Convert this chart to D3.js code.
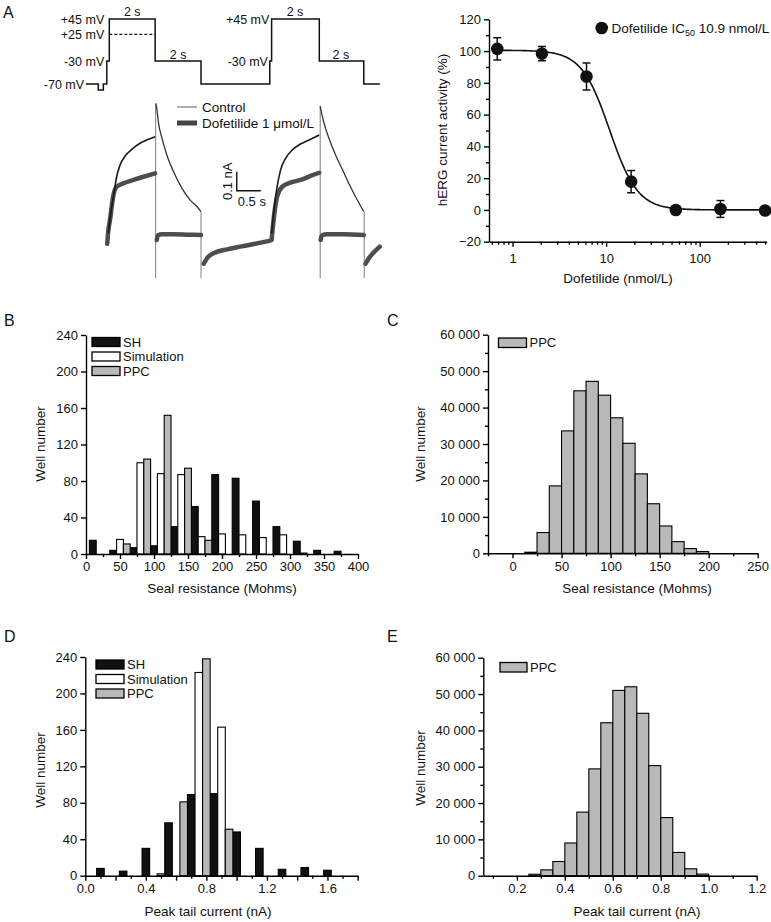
<!DOCTYPE html>
<html><head><meta charset="utf-8">
<script src="https://cdn.jsdelivr.net/npm/d3@7"></script>
<style>
body{margin:0;background:#fff;}
svg{font-family:"Liberation Sans",Arial,Helvetica,sans-serif;}
</style></head><body>
<svg id="fig" width="771" height="922"></svg>
<script>
// ================= DATA =================
// Panel A (left) — voltage protocol: step start times (s) and voltages (mV)
const protocolT = [-1.02, -0.48, -0.26, -0.11, 0, 2, 4, 7, 7.08, 9.16, 11.1, 11.8];
const protocolV = [-70, -80, -70, -30, 45, -30, -70, -30, 45, -30, -70, -70];
const dashedLevel = [[0, 25], [2, 25]];
const protocolLabels = ["+45 mV", "+25 mV", "-30 mV", "-70 mV", "+45 mV", "-30 mV"];
const durationLabels = ["2 s", "2 s", "2 s", "2 s"];

// Current traces (time s, current nA)
const ctrlPulse1 = [[-0.04,0.035],[0.06,0.14],[0.18,0.228],[0.32,0.333],[0.47,0.395],[0.69,0.442],[0.98,0.477],[1.34,0.509],[1.71,0.53],[2.0,0.544]];
const ctrlTail1  = [[2.03,0.719],[2.08,0.684],[2.15,0.614],[2.3,0.535],[2.51,0.447],[2.8,0.36],[3.17,0.272],[3.53,0.21],[3.83,0.175],[4.0,0.149]];
const ctrlPulse2 = [[7.08,0.035],[7.2,0.175],[7.32,0.28],[7.47,0.368],[7.69,0.43],[7.98,0.474],[8.34,0.505],[8.78,0.53],[9.16,0.553]];
const ctrlTail2  = [[9.2,0.705],[9.26,0.668],[9.43,0.589],[9.61,0.526],[9.87,0.447],[10.18,0.368],[10.48,0.289],[10.75,0.226],[11.1,0.149]];
const dofPulse1  = [[-0.09,-0.02],[-0.06,0.03],[0.03,0.105],[0.18,0.237],[0.32,0.28],[0.61,0.298],[1.05,0.316],[1.49,0.333],[2.0,0.351]];
const dofTail1   = [[2.07,0.0],[2.12,0.025],[2.3,0.03],[2.8,0.03],[3.4,0.028],[4.0,0.026]];
const dofPulse2  = [[7.08,0.0],[7.2,0.14],[7.32,0.228],[7.54,0.28],[7.9,0.302],[8.34,0.316],[8.78,0.337],[9.16,0.354]];
const dofTail2   = [[9.22,0.0],[9.27,0.025],[9.5,0.03],[10.2,0.03],[11.1,0.026]];
const holdTrace1 = [[4.12,-0.125],[4.3,-0.09],[4.55,-0.07],[5.14,-0.049],[5.72,-0.035],[6.31,-0.021],[7.0,-0.004]];
const holdTrace2 = [[11.18,-0.125],[11.3,-0.1],[11.5,-0.07],[11.8,-0.035]];
const transients = [[2.02,0.719],[4.0,0.149],[9.2,0.705],[11.12,0.149]]; // [time, top current]
const transientBottom = -0.2;
const traceLegend = ["Control", "Dofetilide 1 μmol/L"];
const scaleBarLabels = ["0.1 nA", "0.5 s"];

// Panel A (right) — concentration–response
const doseConc = [0.686, 2.06, 6.17, 18.5, 55.6, 166.7, 500];
const doseMean = [101.4, 98.4, 84, 17.8, 0, 0.6, -0.4];
const doseErr  = [7, 4.5, 8.5, 7, 1, 5.3, 0.5];
const ic50 = 10.9, hillSlope = 2.9, fitTop = 100.5, fitBottom = 0;
const doseXTicks = [1, 10, 100];
const doseYTicks = [-20, 0, 20, 40, 60, 80, 100, 120];

// Panel B — seal resistance histogram (group centres, Mohms)
const sealGroups = [20, 50, 80, 110, 140, 170, 200, 230, 260, 290, 320, 350, 380];
const sealSH  = [15, 4, 7, 9, 30, 52, 87, 83, 58, 30, 14, 4, 3];
const sealSim = [0, 16, 100, 88, 87, 19, 22, 21, 18, 21, 1, 0, 0];
const sealPPC = [0, 11, 104, 152, 94, 15, 0, 0, 0, 0, 0, 0, 0];

// Panel C — PPC seal resistance (bin starts, counts)
const sealPPCBins   = [12.5, 25, 37.5, 50, 62.5, 75, 87.5, 100, 112.5, 125, 137.5, 150, 162.5, 175, 187.5];
const sealPPCCounts = [300, 5700, 18500, 33600, 44600, 47200, 43400, 37200, 30200, 21800, 13600, 7500, 3200, 1300, 500];

// Panel D — peak tail current histogram (SH bar centres, nA)
const tailGroups = [0.1, 0.25, 0.4, 0.55, 0.7, 0.85, 1.0, 1.15, 1.3, 1.45, 1.6];
const tailSH  = [8, 5, 30, 58, 89, 90, 48, 30, 7, 9, 6];
const tailSim = [0, 0, 0, 0, 223, 163, 0, 0, 0, 0, 0];
const tailPPC = [0, 0, 0, 2, 81, 238, 51, 0, 0, 0, 0];

// Panel E — PPC peak tail current (bin starts, counts)
const tailPPCBins   = [0.25, 0.3, 0.35, 0.4, 0.45, 0.5, 0.55, 0.6, 0.65, 0.7, 0.75, 0.8, 0.85, 0.9, 0.95];
const tailPPCCounts = [400, 1600, 3900, 9000, 17500, 29400, 42100, 51000, 52000, 44700, 30300, 16000, 6400, 1900, 450];

const seriesNames = ["SH", "Simulation", "PPC"];

// ================= DRAW =================
const svg = d3.select("#fig");
const FS = 13;
const FILL = {SH: "#111", Simulation: "#fff", PPC: "#b9b9b9"};
const spaceFmt = d3.formatLocale({decimal: ".", thousands: " ", grouping: [3], currency: ["", ""]}).format(",");

function styleAxis(g) {
  g.attr("font-size", FS).attr("font-family", null);
  g.selectAll("path,line").attr("stroke", "#000").attr("stroke-width", 1.4);
  g.selectAll("text").attr("fill", "#111");
}
function drawAxes(x, y, o) {
  const gx = svg.append("g").attr("transform", `translate(0,${y.range()[0]})`);
  gx.call(d3.axisBottom(x).tickValues(o.xMajor).tickFormat(o.xFmt).tickSize(5).tickSizeOuter(0).tickPadding(o.xPad || 3));
  styleAxis(gx);
  if (o.xMinor) {
    const m = gx.append("g").call(d3.axisBottom(x).tickValues(o.xMinor).tickFormat("").tickSize(3).tickSizeOuter(0));
    m.select(".domain").remove(); styleAxis(m);
  }
  const gy = svg.append("g").attr("transform", `translate(${x.range()[0]},0)`);
  gy.call(d3.axisLeft(y).tickValues(o.yMajor).tickFormat(o.yFmt).tickSize(5).tickSizeOuter(0).tickPadding(3));
  styleAxis(gy);
  if (o.yMinor) {
    const m = gy.append("g").call(d3.axisLeft(y).tickValues(o.yMinor).tickFormat("").tickSize(3).tickSizeOuter(0));
    m.select(".domain").remove(); styleAxis(m);
  }
}
function text(x, y, s, anchor, size, rot) {
  const t = svg.append("text").attr("x", x).attr("y", y).attr("font-size", size || FS)
    .attr("text-anchor", anchor || "start").attr("fill", "#111").text(s);
  if (rot) t.attr("transform", `rotate(${rot},${x},${y})`);
  return t;
}
function legendBox(x, y, w, h, fill, label) {
  svg.append("rect").attr("x", x).attr("y", y).attr("width", w).attr("height", h)
    .attr("fill", fill).attr("stroke", "#000").attr("stroke-width", 1.3);
  text(x + w + 3, y + h / 2 + 4.6, label);
}
function bars(x, y, centers, vals, off, w, fill) {
  const d = centers.map((c, i) => ({c, v: vals[i]})).filter(e => e.v > 0);
  svg.append("g").selectAll("rect").data(d).join("rect")
    .attr("x", e => x(e.c + off - w / 2)).attr("width", e => x(e.c + off + w / 2) - x(e.c + off - w / 2))
    .attr("y", e => y(e.v)).attr("height", e => y(0) - y(e.v))
    .attr("fill", fill).attr("stroke", "#000").attr("stroke-width", 1.1);
}

// ---------- Panel A left ----------
text(3, 18, "A", "start", 16);
const tA = d3.scaleLinear([0, 4], [109.3, 201]);
const vA = d3.scaleLinear([-80, -70, -30, 25, 45], [90, 84, 61, 34.3, 19]);
const iA = d3.scaleLinear([0, 0.1], [240, 221]);

const protoPts = protocolT.map((t, i) => [t, protocolV[i]]);
svg.append("path").attr("d", d3.line().x(d => tA(d[0])).y(d => vA(d[1])).curve(d3.curveStepAfter)(protoPts))
  .attr("fill", "none").attr("stroke", "#111").attr("stroke-width", 1.5);
svg.append("path").attr("d", d3.line().x(d => tA(d[0])).y(d => vA(d[1]))(dashedLevel))
  .attr("fill", "none").attr("stroke", "#111").attr("stroke-width", 1.2).attr("stroke-dasharray", "3,2");
const pLabPos = [[-0.22, 45], [-0.22, 25], [-0.22, -30], [-1.1, -70], [6.98, 45], [6.92, -30]];
protocolLabels.forEach((s, i) => text(tA(pLabPos[i][0]), vA(pLabPos[i][1]) + 4.5, s, "end", 12.5));
const dLabPos = [[1, 16], [3, 58.5], [8.1, 16], [10.1, 58.5]];
durationLabels.forEach((s, i) => text(tA(dLabPos[i][0]), dLabPos[i][1], s, "middle", 12.5));

const lineI = d3.line().x(d => tA(d[0])).y(d => iA(d[1])).curve(d3.curveMonotoneX);
// capacitive transients
svg.append("g").selectAll("line").data(transients).join("line")
  .attr("x1", d => tA(d[0])).attr("x2", d => tA(d[0]))
  .attr("y1", d => iA(d[1])).attr("y2", iA(transientBottom))
  .attr("stroke", "#8a8a8a").attr("stroke-width", 1.1);
// dofetilide (thick noisy trace)
[dofPulse1, dofTail1, holdTrace1, dofPulse2, dofTail2, holdTrace2].forEach(seg =>
  svg.append("path").attr("d", lineI(seg)).attr("fill", "none").attr("stroke", "#4d4d4d")
    .attr("stroke-width", 4.5).attr("stroke-linejoin", "round").attr("stroke-linecap", "round"));
// control (thin)
[ctrlPulse1, ctrlPulse2].forEach(seg =>
  svg.append("path").attr("d", lineI(seg)).attr("fill", "none").attr("stroke", "#1a1a1a").attr("stroke-width", 1.6));
[ctrlTail1, ctrlTail2].forEach(seg =>
  svg.append("path").attr("d", lineI(seg)).attr("fill", "none").attr("stroke", "#333").attr("stroke-width", 1.3));

// legend for traces
svg.append("line").attr("x1", 177).attr("x2", 197).attr("y1", 107).attr("y2", 107).attr("stroke", "#777").attr("stroke-width", 1.2);
text(202, 111.5, traceLegend[0], "start", 13.5);
svg.append("rect").attr("x", 177).attr("y", 120.5).attr("width", 20).attr("height", 5).attr("fill", "#444");
text(202, 127.5, traceLegend[1], "start", 13.5);

// scale bar
const sbT = 5.56, sbI = 0.259, sbDT = 1.05, sbDI = 0.1;
svg.append("path").attr("d", `M${tA(sbT)},${iA(sbI + sbDI)}V${iA(sbI)}H${tA(sbT + sbDT)}`)
  .attr("fill", "none").attr("stroke", "#111").attr("stroke-width", 1.4);
text(232, iA(sbI + sbDI / 2), scaleBarLabels[0], "middle", 13, -90);
text(tA(sbT) + 1, 206, scaleBarLabels[1], "start", 13);

// ---------- Panel A right ----------
const xR = d3.scaleLog([0.56, 520], [489, 766.7]);
const yR = d3.scaleLinear([-20, 120], [241.7, 19.3]);
const minorLog = [];
[0.1, 1, 10, 100].forEach(dec => { for (let k = 2; k <= 9; k++) { const v = dec * k; if (v >= 0.56 && v <= 520 && ![1,10,100].includes(v)) minorLog.push(v); } });
drawAxes(xR, yR, {xMajor: doseXTicks, xFmt: d3.format("d"), xMinor: minorLog, xPad: 7,
  yMajor: doseYTicks, yFmt: d3.format("d"), yMinor: d3.range(-10, 120, 20)});
// fitted Hill curve (IC50 from legend)
const fitX = d3.range(Math.log10(doseConc[0]), Math.log10(doseConc[6]) + 0.001, 0.02).map(l => Math.pow(10, l));
svg.append("path").attr("d", d3.line().x(c => xR(c)).y(c => yR(fitBottom + (fitTop - fitBottom) / (1 + Math.pow(c / ic50, hillSlope))))(fitX))
  .attr("fill", "none").attr("stroke", "#111").attr("stroke-width", 1.6);
const dosePts = doseConc.map((c, i) => ({c, m: doseMean[i], e: doseErr[i]}));
const eg = svg.append("g").attr("stroke", "#111").attr("stroke-width", 1.5);
dosePts.forEach(p => {
  eg.append("line").attr("x1", xR(p.c)).attr("x2", xR(p.c)).attr("y1", yR(p.m + p.e)).attr("y2", yR(p.m - p.e));
  [p.m + p.e, p.m - p.e].forEach(v => eg.append("line").attr("x1", xR(p.c) - 4).attr("x2", xR(p.c) + 4).attr("y1", yR(v)).attr("y2", yR(v)));
});
svg.append("g").selectAll("circle").data(dosePts).join("circle")
  .attr("cx", p => xR(p.c)).attr("cy", p => yR(p.m)).attr("r", 6.3).attr("fill", "#111");
svg.append("circle").attr("cx", 601.7).attr("cy", 28).attr("r", 6.3).attr("fill", "#111");
const lt = text(611.5, 33, "Dofetilide IC", "start", 13.5);
lt.append("tspan").attr("font-size", 9).attr("dy", 3).text("50");
lt.append("tspan").attr("dy", -3).text(" 10.9 nmol/L");
text(447, 130, "hERG current activity (%)", "middle", 13.5, -90);
text(618, 283, "Dofetilide (nmol/L)", "middle", 13.5);

// ---------- Panel B ----------
text(4, 326, "B", "start", 16);
const xB = d3.scaleLinear([0, 400], [86, 358]);
const yB = d3.scaleLinear([0, 240], [554, 335]);
bars(xB, yB, sealGroups, sealSH, -10, 10, FILL.SH);
bars(xB, yB, sealGroups, sealSim, 0, 10, FILL.Simulation);
bars(xB, yB, sealGroups, sealPPC, 10, 10, FILL.PPC);
drawAxes(xB, yB, {xMajor: d3.range(0, 401, 50), xFmt: d3.format("d"), xMinor: d3.range(25, 400, 50),
  yMajor: d3.range(0, 241, 40), yFmt: d3.format("d")});
legendBox(92, 337.5, 28, 9, FILL.SH, seriesNames[0]);
legendBox(92, 352, 28, 9, FILL.Simulation, seriesNames[1]);
legendBox(92, 366.5, 28, 9, FILL.PPC, seriesNames[2]);
text(44.5, 444, "Well number", "middle", 13.5, -90);
text(222, 593, "Seal resistance (Mohms)", "middle", 13.5);

// ---------- Panel C ----------
text(387, 326, "C", "start", 16);
const xC = d3.scaleLinear([-25, 250], [488, 757.7]);
const yC = d3.scaleLinear([0, 60000], [553.3, 334.7]);
bars(xC, yC, sealPPCBins.map(b => b + 6.25), sealPPCCounts, 0, 12.5, FILL.PPC);
drawAxes(xC, yC, {xMajor: d3.range(0, 251, 50), xFmt: d3.format("d"), xMinor: d3.range(-25, 250, 50),
  yMajor: d3.range(0, 60001, 10000), yFmt: spaceFmt, yMinor: d3.range(5000, 60000, 10000)});
legendBox(498.5, 338, 28, 9.5, FILL.PPC, seriesNames[2]);
text(424.5, 444, "Well number", "middle", 13.5, -90);
text(637, 593, "Seal resistance (Mohms)", "middle", 13.5);

// ---------- Panel D ----------
text(4, 642, "D", "start", 16);
const xD = d3.scaleLinear([0, 1.8], [85.3, 357.7]);
const yD = d3.scaleLinear([0, 240], [875.7, 657]);
bars(xD, yD, tailGroups, tailSH, 0, 0.05, FILL.SH);
bars(xD, yD, tailGroups, tailSim, 0.05, 0.05, FILL.Simulation);
bars(xD, yD, tailGroups, tailPPC, -0.05, 0.05, FILL.PPC);
drawAxes(xD, yD, {xMajor: d3.range(0, 1.81, 0.2).map(v => +v.toFixed(1)), xFmt: v => (Math.round(v * 10) % 4 === 0 ? d3.format(".1f")(v) : ""),
  xMinor: d3.range(0.1, 1.8, 0.2).map(v => +v.toFixed(1)),
  yMajor: d3.range(0, 241, 40), yFmt: d3.format("d")});
legendBox(96, 660, 28, 9, FILL.SH, seriesNames[0]);
legendBox(96, 674.5, 28, 9, FILL.Simulation, seriesNames[1]);
legendBox(96, 689, 28, 9, FILL.PPC, seriesNames[2]);
text(44.5, 770, "Well number", "middle", 13.5, -90);
text(208, 916, "Peak tail current (nA)", "middle", 13.5);

// ---------- Panel E ----------
text(387, 642, "E", "start", 16);
const xE = d3.scaleLinear([0.06, 1.2], [483.3, 756.7]);
const yE = d3.scaleLinear([0, 60000], [875.7, 657.7]);
bars(xE, yE, tailPPCBins.map(b => b + 0.025), tailPPCCounts, 0, 0.05, FILL.PPC);
drawAxes(xE, yE, {xMajor: d3.range(0.2, 1.21, 0.2).map(v => +v.toFixed(1)), xFmt: d3.format(".1f"),
  xMinor: d3.range(0.1, 1.2, 0.2).map(v => +v.toFixed(1)),
  yMajor: d3.range(0, 60001, 10000), yFmt: spaceFmt, yMinor: d3.range(5000, 60000, 10000)});
legendBox(500, 662.5, 27, 9.5, FILL.PPC, seriesNames[2]);
text(424.5, 768, "Well number", "middle", 13.5, -90);
text(637, 916, "Peak tail current (nA)", "middle", 13.5);
</script></body></html>
